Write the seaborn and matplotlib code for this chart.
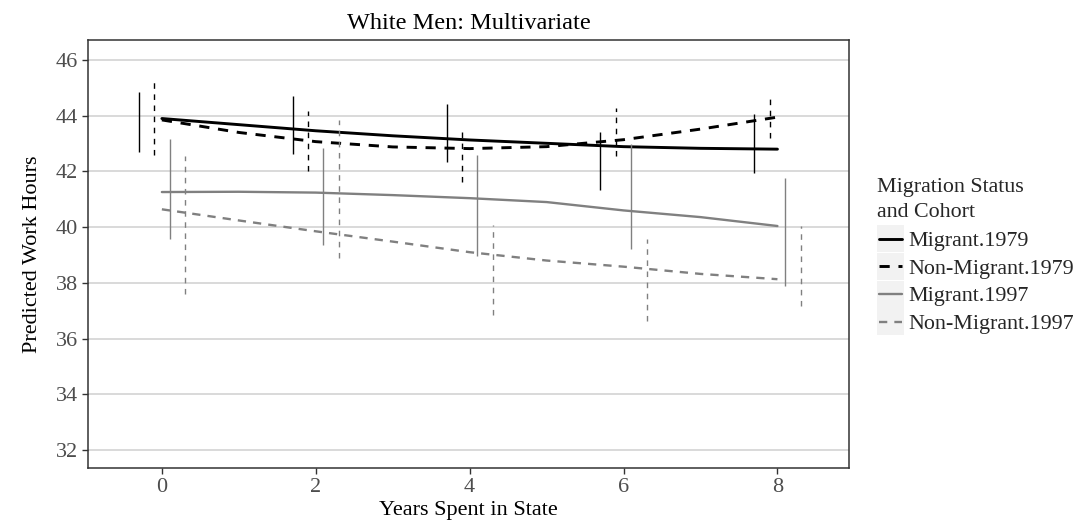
import numpy as np
import pandas as pd
import matplotlib
matplotlib.use("Agg")
import matplotlib.pyplot as plt
import seaborn as sns
from matplotlib.lines import Line2D
from matplotlib.patches import Rectangle
from matplotlib.legend_handler import HandlerBase

# ---------------- data ----------------
groups = ["Migrant.1979", "Non-Migrant.1979", "Migrant.1997", "Non-Migrant.1997"]
years = [0, 1, 2, 3, 4, 5, 6, 7, 8]
mig79 = [43.90, 43.68, 43.46, 43.28, 43.13, 43.01, 42.89, 42.83, 42.80]
nonmig79 = [43.85, 43.40, 43.07, 42.88, 42.82, 42.89, 43.14, 43.52, 43.95]
mig97 = [41.26, 41.27, 41.24, 41.15, 41.04, 40.90, 40.60, 40.36, 40.04]
nonmig97 = [40.64, 40.24, 39.85, 39.48, 39.10, 38.80, 38.58, 38.32, 38.13]

err_years = [0, 2, 4, 6, 8]
mig79_lo = [42.69, 42.62, 42.33, 41.34, 41.95]
mig79_hi = [44.86, 44.71, 44.41, 43.40, 44.06]
nonmig79_lo = [42.59, 42.03, 41.63, 42.55, 43.19]
nonmig79_hi = [45.20, 44.17, 43.52, 44.27, 44.78]
mig97_lo = [39.56, 39.36, 38.98, 39.23, 37.89]
mig97_hi = [43.16, 42.85, 42.59, 42.97, 41.75]
nonmig97_lo = [37.59, 38.88, 36.85, 36.64, 37.15]
nonmig97_hi = [42.55, 43.85, 40.08, 39.56, 40.05]

x_ticks = [0, 2, 4, 6, 8]
y_ticks = [32, 34, 36, 38, 40, 42, 44, 46]

line_vals = {"Migrant.1979": mig79, "Non-Migrant.1979": nonmig79,
             "Migrant.1997": mig97, "Non-Migrant.1997": nonmig97}
err_lo = {"Migrant.1979": mig79_lo, "Non-Migrant.1979": nonmig79_lo,
          "Migrant.1997": mig97_lo, "Non-Migrant.1997": nonmig97_lo}
err_hi = {"Migrant.1979": mig79_hi, "Non-Migrant.1979": nonmig79_hi,
          "Migrant.1997": mig97_hi, "Non-Migrant.1997": nonmig97_hi}

df = pd.DataFrame([(g, x, v) for g in groups for x, v in zip(years, line_vals[g])],
                  columns=["Group", "Years", "Hours"])

# ---------------- styles ----------------
colors = {"Migrant.1979": "black", "Non-Migrant.1979": "black",
          "Migrant.1997": "#808080", "Non-Migrant.1997": "#808080"}
widths = {"Migrant.1979": 2.1, "Non-Migrant.1979": 2.1,
          "Migrant.1997": 1.7, "Non-Migrant.1997": 1.7}
dash_line = {"Migrant.1979": "-", "Non-Migrant.1979": (0, (3.5, 3)),
             "Migrant.1997": "-", "Non-Migrant.1997": (0, (3.5, 3))}
dash_err = {"Migrant.1979": "-", "Non-Migrant.1979": (0, (4, 4)),
            "Migrant.1997": "-", "Non-Migrant.1997": (0, (4, 4))}
offsets = {"Migrant.1979": -0.3, "Non-Migrant.1979": -0.1,
           "Migrant.1997": 0.1, "Non-Migrant.1997": 0.3}

sns.set_theme(style="white")
plt.rcParams["font.family"] = ["Liberation Serif", "DejaVu Serif"]

W, H = 1076, 525
fig = plt.figure(figsize=(W / 100, H / 100), dpi=100)
L, R, T, B = 88, 849, 40, 468
ax = fig.add_axes([L / W, 1 - B / H, (R - L) / W, (B - T) / H])

handles = []
for g in groups:
    sub = df[df["Group"] == g]
    sns.lineplot(data=sub, x="Years", y="Hours", color=colors[g], linewidth=widths[g],
                 linestyle=dash_line[g], ax=ax, legend=False)
    ax.vlines(np.array(err_years) + offsets[g], err_lo[g], err_hi[g],
              colors=colors[g], linestyles=[dash_err[g]], linewidth=1.0)
    handles.append(Line2D([0], [0], color=colors[g], linewidth=widths[g],
                          linestyle=dash_line[g], label=g))

ax.set_xlim(-0.96, 8.93)
ax.set_ylim(31.35, 46.72)
ax.set_xticks(x_ticks)
ax.set_yticks(y_ticks)
ax.set_axisbelow(True)
ax.yaxis.grid(True, color="#CFCFCF", linewidth=1.1)
ax.xaxis.grid(False)
for s in ax.spines.values():
    s.set_visible(True)
    s.set_color("#333333")
    s.set_linewidth(1.1)
ax.tick_params(axis="both", bottom=True, left=True, length=4, width=1,
               color="#333333", labelcolor="#4D4D4D", labelsize=16, direction="out", pad=3)
ax.set_xlabel("Years Spent in State", fontsize=16, color="black", labelpad=3)
ax.set_ylabel("Predicted Work Hours", fontsize=16, color="black", labelpad=10)
ax.set_title("White Men: Multivariate", fontsize=17.5, color="black", pad=8)


class KeyHandler(HandlerBase):
    def create_artists(self, legend, orig_handle, xdescent, ydescent, width, height,
                       fontsize, trans):
        x0, y0 = -xdescent, -ydescent
        rect = Rectangle((x0, y0), width, height, facecolor="#F2F2F2",
                         edgecolor="none", transform=trans)
        ln = Line2D([x0 + width * 0.08, x0 + width * 0.92],
                    [y0 + height / 2, y0 + height / 2])
        ln.update_from(orig_handle)
        ln.set_transform(trans)
        return [rect, ln]


leg = fig.legend(handles=handles, labels=groups, loc="upper left",
                 bbox_to_anchor=(877 / W, 1 - 178 / H), frameon=False,
                 title="Migration Status\nand Cohort", alignment="left",
                 fontsize=15.8, title_fontsize=15.8, handlelength=1.24,
                 handleheight=1.52, handletextpad=0.2, labelspacing=0.03,
                 borderpad=0, borderaxespad=0,
                 handler_map={Line2D: KeyHandler()})
leg.get_title().set_linespacing(1.45)
leg._legend_box.sep = 2

fig.savefig("out.png", dpi=100, facecolor="white")
